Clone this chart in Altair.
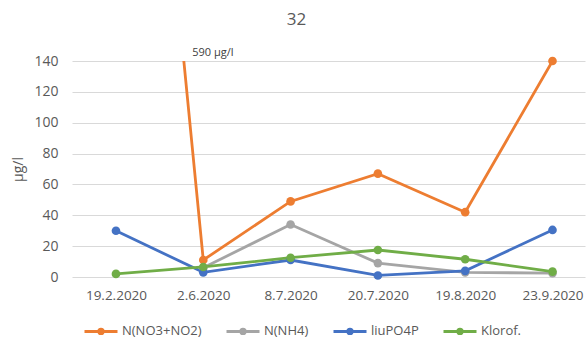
import altair as alt
import pandas as pd

dates = ["19.2.2020", "2.6.2020", "8.7.2020", "20.7.2020", "19.8.2020", "23.9.2020"]
series_names = ["N(NO3+NO2)", "N(NH4)", "liuPO4P", "Klorof."]
no3_no2 = [590, 11, 49, 67, 42, 140]
nh4 = [None, 6, 34, 9, 3, 2.5]
po4 = [30, 3, 11, 1, 4, 30.5]
klorof = [2, 6.5, 12.5, 17.5, 11.5, 3.5]
colors = ["#ED7D31", "#A5A5A5", "#4472C4", "#70AD47"]

rows = []
for name, vals in zip(series_names, [no3_no2, nh4, po4, klorof]):
    for i, (d, v) in enumerate(zip(dates, vals)):
        if v is not None:
            rows.append({"date": d, "series": name, "value": v, "order": series_names.index(name)})
df = pd.DataFrame(rows)

font = "Open Sans"
txt = "#595959"

x = alt.X("date:N", sort=dates, scale=alt.Scale(type="point", padding=0.438, align=0.575),
          axis=alt.Axis(title=None, labelAngle=0, ticks=False, domain=False, grid=False,
                        labelPadding=11, labelFontSize=13.5, labelColor=txt, labelFont=font))
y = alt.Y("value:Q", scale=alt.Scale(domain=[0, 140], nice=False),
          axis=alt.Axis(title="µg/l", values=[0, 20, 40, 60, 80, 100, 120, 140], tickCount=8,
                        labelOverlap=False, ticks=False,
                        domain=False, gridColor="#D9D9D9", labelPadding=14, labelFontSize=14,
                        labelColor=txt, labelFont=font, titleFont=font, titleFontSize=14,
                        titleColor=txt, titleFontWeight="normal", titlePadding=8))
color = alt.Color("series:N", scale=alt.Scale(domain=series_names, range=colors),
                  legend=alt.Legend(title=None, orient="none", direction="horizontal",
                                    legendX=11, legendY=252,
                                    symbolType="M-1,0H1M-0.13,0A0.13,0.13,0,1,1,0.13,0A0.13,0.13,0,1,1,-0.13,0Z",
                                    symbolSize=1089, symbolStrokeWidth=3,
                                    labelFont=font, labelFontSize=13, labelColor=txt,
                                    columnPadding=18, labelOffset=3))
fill = alt.Fill("series:N", scale=alt.Scale(domain=series_names, range=colors), legend=None)

lines = alt.Chart(df).mark_line(strokeWidth=2.8, clip=True).encode(
    x=x, y=y, color=color, order=alt.Order("order:Q"))
points = alt.Chart(df).transform_filter("datum.value <= 140").mark_circle(
    size=75, opacity=1).encode(x=x, y=y, fill=fill)

ann_df = pd.DataFrame({"date": ["2.6.2020"], "value": [140], "label": ["590 µg/l"]})
ann = alt.Chart(ann_df).mark_text(align="left", baseline="bottom", dx=-11, dy=-3,
                                  fontSize=11, font=font, color="#404040").encode(
    x=x, y=y, text="label:N")

chart = alt.layer(lines, points, ann).properties(
    width=513, height=216,
    title=alt.TitleParams("32", fontSize=17, font=font, color=txt, fontWeight="normal",
                          dx=-32, offset=18),
    autosize=alt.AutoSizeParams(type="none"),
    padding={"left": 72, "top": 61, "right": 2, "bottom": 65},
).configure_view(stroke=None)

chart.save("out.html", embed_options={"renderer": "svg", "actions": False})
